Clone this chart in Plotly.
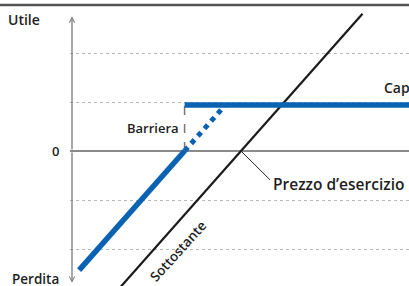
import plotly.graph_objects as go

# ---- data (price of underlying vs profit) ----
strike = 100
barrier = 87
cap = 9.4
axis_price = 61.06

under_price = [71, 128]
under_profit = [-29, 28]

blue_low_price = [62.7, 87]
blue_low_profit = [-24.3, 0]

blue_dot_price = [87, 96.4]
blue_dot_profit = [0, 9.4]

cap_price = [87, 139]
cap_profit = [9.4, 9.4]

grid_vals = [-20, -10, 10, 20]

BLUE = "#0a63b2"
TXT = "#1e1e1e"


def font(size):
    return dict(family="Open Sans", size=size, color=TXT, weight=600)


fig = go.Figure()
fig.add_trace(go.Scatter(x=under_price, y=under_profit, mode="lines",
                         line=dict(color="#1a1a1a", width=2.2)))
fig.add_trace(go.Scatter(x=blue_low_price, y=blue_low_profit, mode="lines",
                         line=dict(color=BLUE, width=5.5)))
fig.add_trace(go.Scatter(x=blue_dot_price, y=blue_dot_profit, mode="lines",
                         line=dict(color=BLUE, width=5, dash="dot")))
fig.add_trace(go.Scatter(x=cap_price, y=cap_profit, mode="lines",
                         line=dict(color=BLUE, width=5.5)))

W, H = 409, 286
L = 70
px_per_x = 4.34
px_per_y = 4.9
xr = [strike - (241 - L) / px_per_x, strike + (W - 241) / px_per_x]
yr = [-(H - 151) / px_per_y, 151 / px_per_y]

fig.update_layout(
    width=W, height=H, margin=dict(l=L, r=0, t=0, b=0),
    paper_bgcolor="white", plot_bgcolor="white", showlegend=False,
    xaxis=dict(range=xr, visible=False, fixedrange=True),
    yaxis=dict(range=yr, tickvals=grid_vals, showticklabels=False,
               showgrid=True, gridcolor="#b8b8b8", gridwidth=1, griddash="dot",
               zeroline=True, zerolinecolor="#8a8a8a", zerolinewidth=1.5,
               showline=False, fixedrange=True),
)

# barrier dashed vertical
fig.add_shape(type="line", x0=barrier, x1=barrier, y0=0, y1=cap,
              line=dict(color="#777777", width=1.5, dash="dash"), layer="below")
# leader line to strike label
fig.add_shape(type="line", x0=strike, y0=0, x1=106.7, y1=-5.9,
              line=dict(color="#222222", width=1))
# top rule
fig.add_shape(type="line", xref="paper", yref="paper", x0=-L / 339, x1=1,
              y0=1 - 5 / H, y1=1 - 5 / H, line=dict(color="#555555", width=2.5))

# vertical axis with arrows
for tip in (27.5, -26.9):
    fig.add_annotation(x=axis_price, y=tip, ax=axis_price, ay=0, axref="x", ayref="y",
                       text="", showarrow=True, arrowhead=5, arrowsize=0.8,
                       arrowwidth=1.3, arrowcolor="#7a7a7a")


def px(xp):
    return (xp - L) / 339


def py(yp):
    return 1 - yp / H


# cropped title at very top (only its lower edge shows)
fig.add_annotation(xref="paper", yref="paper", x=px(8), y=py(4), xanchor="left",
                   yanchor="bottom", text="<b>sanzionata</b>", showarrow=False,
                   font=dict(family="Open Sans", size=15, color=TXT))

fig.add_annotation(xref="paper", yref="paper", x=px(24), y=py(20), text="Utile",
                   xanchor="center", yanchor="middle", showarrow=False, font=font(14))
fig.add_annotation(xref="paper", yref="paper", x=px(55), y=py(151), text="0",
                   xanchor="center", yanchor="middle", showarrow=False, font=font(13))
fig.add_annotation(xref="paper", yref="paper", x=px(35), y=py(279), text="Perdita",
                   xanchor="center", yanchor="middle", showarrow=False, font=font(13.5))

fig.add_annotation(x=86.2, y=4.7, text="Barriera", xanchor="right", yanchor="middle",
                   showarrow=False, font=font(13))
fig.add_annotation(x=132.5, y=12.9, text="Cap", xanchor="left", yanchor="middle",
                   showarrow=False, font=font(14))
fig.add_annotation(x=106.8, y=-6.7, text="Prezzo d’esercizio", xanchor="left",
                   yanchor="middle", showarrow=False, font=font(15.5))
fig.add_annotation(x=85.5, y=-20.4, text="Sottostante", textangle=-48,
                   xanchor="center", yanchor="middle", showarrow=False, font=font(13.5))

fig.write_html("out.html", config={"displayModeBar": False},
               post_script="document.body.style.margin='0';document.body.style.overflow='hidden';")
